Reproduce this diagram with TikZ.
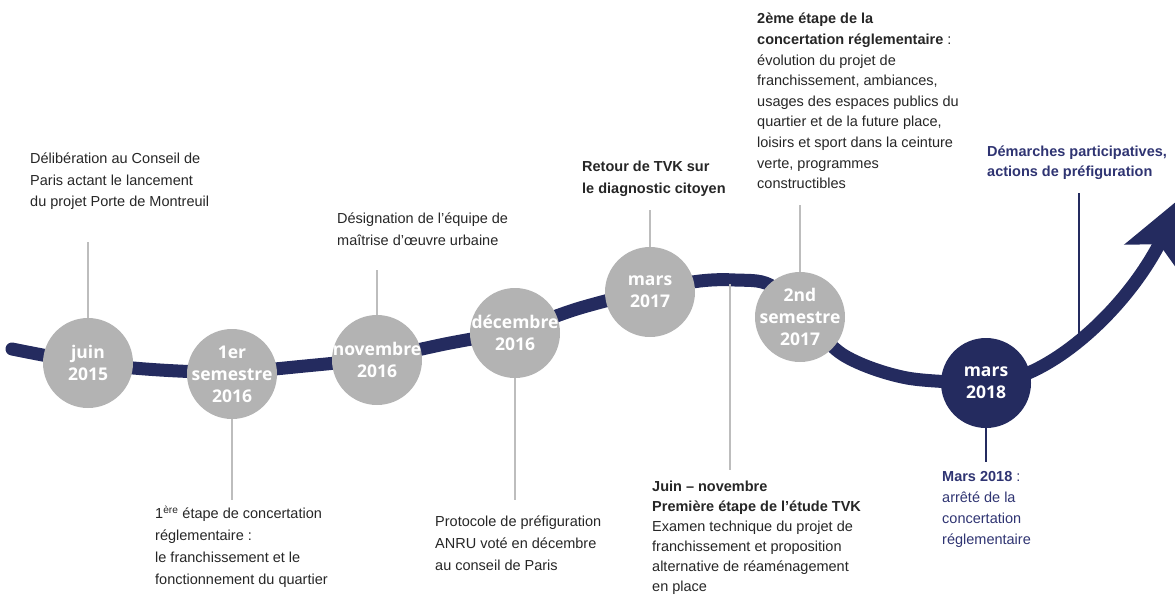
\documentclass[tikz,border=0pt]{standalone}
\usepackage{fontspec}
\setmainfont{Liberation Sans}
\newfontfamily\datefont{Open Sans}
\usetikzlibrary{arrows.meta}

\definecolor{navy}{HTML}{242B5F}
\definecolor{dotgray}{HTML}{B3B3B3}
\definecolor{stemgray}{HTML}{BDBDBD}
\definecolor{textnavy}{HTML}{2F3472}

\begin{document}
\begin{tikzpicture}[x=1pt, y=-1pt,
				date/.style={circle, fill=dotgray, minimum size=90pt, inner sep=0pt},
				datetext/.style={text=white, align=center, inner sep=0pt,
					font=\datefont\bfseries\fontsize{17.5}{22}\selectfont},
				info/.style={anchor=north west, inner sep=0pt, align=left, text=black!85,
					font=\fontsize{14.5}{21.5}\selectfont},
				stem/.style={draw=stemgray, line width=2pt},
				spine/.style={draw=navy, line width=13pt, line cap=round},
				>={Stealth[length=70pt, width=60pt, inset=15pt]}]
				
				\useasboundingbox (0,0) rectangle (1175,603);
				\clip (0,0) rectangle (1175,603);
				
				% Timeline
				\draw[spine, ->] plot[smooth, tension=0.55] coordinates {
					(12,349) (88,363) (160,370) (232,372) (305,366) (377,358)
					(445,344) (515,330) (580,308) (650,290) (700,281) (735,280)
					(770,285) (805,318) (845,356) (907,378) (986,383)}
					.. controls (1045,383) and (1125,312) .. (1184,195);
				
				% Free ends of the stems
				\coordinate (juin-end) at (88,242);
				\coordinate (sem16-end) at (232,500);
				\coordinate (nov-end) at (377,270);
				\coordinate (dec-end) at (515,500);
				\coordinate (mars17-end) at (650,210);
				\coordinate (etude-top) at (730,284);
				\coordinate (etude-end) at (730,470);
				\coordinate (sem17-end) at (800,205);
				\coordinate (demarches-end) at (1079,193);
				\coordinate (demarches-top) at (1079,337);
				\coordinate (mars18-end) at (986,462);
				
				% Dates
				\node[date, label={[datetext]center:{juin\\2015}}] (juin) at (88,363) {};
				\node[date, label={[datetext]center:{1er\\semestre\\2016}}] (sem16) at (232,374) {};
				\node[date, label={[datetext]center:{novembre\\2016}}] (nov) at (377,360) {};
				\node[date, label={[datetext]center:{décembre\\2016}}] (dec) at (515,333) {};
				\node[date, label={[datetext]center:{mars\\2017}}] (mars17) at (650,292) {};
				\node[date, label={[datetext]center:{2nd\\semestre\\2017}}] (sem17) at (800,317) {};
				\node[date, fill=navy, label={[datetext]center:{mars\\2018}}] (mars18) at (986,383) {};
				
				% Stems
				\draw[stem] (juin) -- (juin-end);
				\draw[stem] (sem16) -- (sem16-end);
				\draw[stem] (nov) -- (nov-end);
				\draw[stem] (dec) -- (dec-end);
				\draw[stem] (mars17) -- (mars17-end);
				\draw[stem] (etude-top) -- (etude-end);
				\draw[stem] (sem17) -- (sem17-end);
				\draw[stem, draw=navy] (demarches-end) -- (demarches-top);
				\draw[stem, draw=navy] (mars18) -- (mars18-end);
				
				% Texts above
				\node[info] (delib) at (30,153) {Délibération au Conseil de\\Paris actant le lancement\\du projet Porte de Montreuil};
				\node[info, font=\fontsize{14.5}{22}\selectfont] (design) at (337,213) {Désignation de l’équipe de\\maîtrise d’œuvre urbaine};
				\node[info, font=\bfseries\fontsize{14.5}{22}\selectfont] (retour) at (582,161) {Retour de TVK sur\\le diagnostic citoyen};
				\node[info, font=\fontsize{14.5}{20.6}\selectfont] (deuxieme) at (757,13) {\textbf{2ème étape de la}\\\textbf{concertation réglementaire} :\\évolution du projet de\\franchissement, ambiances,\\usages des espaces publics du\\quartier et de la future place,\\loisirs et sport dans la ceinture\\verte, programmes\\constructibles};
				\node[info, text=textnavy, font=\bfseries\fontsize{14.5}{20}\selectfont] (demarches) at (987,146) {Démarches participatives,\\actions de préfiguration};
				
				% Texts below
				\node[info, font=\fontsize{14.5}{22}\selectfont] (premiere) at (155,506) {1\textsuperscript{ère} étape de concertation\\réglementaire :\\le franchissement et le\\fonctionnement du quartier};
				\node[info, font=\fontsize{14.5}{22}\selectfont] (protocole) at (435,516) {Protocole de préfiguration\\ANRU voté en décembre\\au conseil de Paris};
				\node[info, font=\fontsize{14.5}{20}\selectfont] (etude) at (652,481) {\textbf{Juin – novembre}\\\textbf{Première étape de l’étude TVK}\\Examen technique du projet de\\franchissement et proposition\\alternative de réaménagement\\en place};
				\node[info, text=textnavy, font=\fontsize{14.5}{21}\selectfont] (arrete) at (942,471) {\textbf{Mars 2018} :\\arrêté de la\\concertation\\réglementaire};
			\end{tikzpicture}
\end{document}
